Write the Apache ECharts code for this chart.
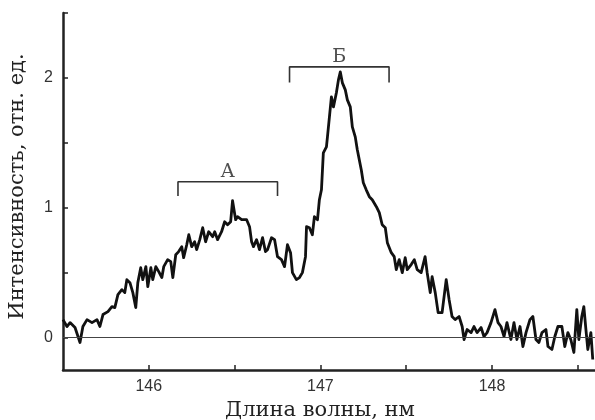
<!DOCTYPE html>
<html>
<head>
<meta charset="utf-8">
<script src="https://cdn.jsdelivr.net/npm/echarts@6/dist/echarts.min.js"></script>
<style>
  html, body { margin: 0; padding: 0; background: #fff; }
  #chart { width: 595px; height: 420px; }
</style>
</head>
<body>
<div id="chart"></div>
<script>
// Emission spectrum: wavelength (nm) and relative intensity
const wavelength = [
  145.500, 145.523, 145.541, 145.570, 145.599, 145.616, 145.640, 145.669, 145.698, 145.715,
  145.733, 145.762, 145.785, 145.802, 145.820, 145.843, 145.860, 145.872, 145.890, 145.907,
  145.924, 145.936, 145.953, 145.965, 145.983, 145.994, 146.012, 146.023, 146.041, 146.058,
  146.076, 146.087, 146.110, 146.128, 146.140, 146.157, 146.174, 146.192, 146.203, 146.221,
  146.233, 146.250, 146.267, 146.279, 146.297, 146.314, 146.331, 146.349, 146.372, 146.384,
  146.401, 146.424, 146.442, 146.459, 146.477, 146.488, 146.506, 146.517, 146.541, 146.570,
  146.587, 146.599, 146.610, 146.628, 146.645, 146.663, 146.680, 146.692, 146.715, 146.733,
  146.750, 146.773, 146.791, 146.808, 146.826, 146.837, 146.860, 146.878, 146.895, 146.913,
  146.919, 146.936, 146.953, 146.965, 146.983, 146.994, 147.006, 147.017, 147.035, 147.041,
  147.064, 147.076, 147.093, 147.105, 147.116, 147.128, 147.145, 147.157, 147.174, 147.186,
  147.203, 147.215, 147.238, 147.250, 147.267, 147.285, 147.302, 147.326, 147.343, 147.360,
  147.378, 147.390, 147.413, 147.430, 147.442, 147.459, 147.477, 147.494, 147.506, 147.529,
  147.547, 147.564, 147.587, 147.610, 147.622, 147.640, 147.651, 147.669, 147.686, 147.709,
  147.733, 147.750, 147.767, 147.785, 147.808, 147.826, 147.837, 147.855, 147.878, 147.895,
  147.913, 147.936, 147.953, 147.971, 147.994, 148.017, 148.035, 148.052, 148.070, 148.087,
  148.110, 148.128, 148.145, 148.163, 148.180, 148.198, 148.221, 148.238, 148.256, 148.273,
  148.291, 148.314, 148.326, 148.349, 148.366, 148.384, 148.407, 148.424, 148.442, 148.459,
  148.477, 148.494, 148.506, 148.523, 148.535, 148.547, 148.558, 148.576, 148.587
];
const intensity = [
  0.138, 0.085, 0.115, 0.077, -0.038, 0.085, 0.138, 0.115, 0.138, 0.085,
  0.177, 0.200, 0.238, 0.231, 0.331, 0.369, 0.346, 0.446, 0.423, 0.346,
  0.231, 0.423, 0.538, 0.446, 0.546, 0.392, 0.538, 0.446, 0.546, 0.508,
  0.462, 0.546, 0.600, 0.585, 0.462, 0.638, 0.662, 0.700, 0.615, 0.715,
  0.792, 0.700, 0.738, 0.677, 0.754, 0.846, 0.738, 0.815, 0.777, 0.815,
  0.754, 0.815, 0.892, 0.869, 0.892, 1.054, 0.908, 0.931, 0.908, 0.908,
  0.854, 0.738, 0.700, 0.754, 0.677, 0.769, 0.662, 0.677, 0.769, 0.754,
  0.623, 0.600, 0.546, 0.715, 0.654, 0.500, 0.446, 0.462, 0.500, 0.623,
  0.854, 0.846, 0.792, 0.931, 0.908, 1.062, 1.138, 1.423, 1.469, 1.546,
  1.854, 1.777, 1.885, 1.985, 2.046, 1.962, 1.908, 1.831, 1.777, 1.623,
  1.546, 1.446, 1.292, 1.192, 1.138, 1.085, 1.062, 1.008, 0.962, 0.869,
  0.846, 0.731, 0.654, 0.623, 0.523, 0.600, 0.500, 0.615, 0.523, 0.562,
  0.600, 0.523, 0.500, 0.623, 0.500, 0.346, 0.469, 0.346, 0.192, 0.192,
  0.446, 0.292, 0.162, 0.138, 0.162, 0.085, -0.015, 0.062, 0.038, 0.085,
  0.038, 0.077, 0.008, 0.038, 0.115, 0.215, 0.115, 0.085, 0.008, 0.115,
  -0.015, 0.115, -0.015, 0.085, -0.069, 0.038, 0.138, 0.162, -0.015, -0.038,
  0.038, 0.062, -0.069, -0.092, 0.008, 0.085, 0.085, -0.069, 0.038, -0.015,
  -0.115, 0.215, -0.015, 0.162, 0.238, 0.062, -0.092, 0.038, -0.169
];

// Band brackets: start/end wavelength, bracket level, foot level, label
const bandNames = ['А', 'Б'];
const bandStart = [146.17, 146.82];
const bandEnd = [146.75, 147.40];
const bandLevel = [1.20, 2.085];
const bandFoot = [1.09, 1.965];

const xTicks = [146, 147, 148];
const yTicks = [0, 0.5, 1, 1.5, 2, 2.5];
const yLabels = [0, 1, 2];

const serif = '"DejaVu Serif", "Liberation Serif", serif';
const sans = '"Liberation Sans Narrow", "Liberation Sans", Arial, sans-serif';

const spectrum = wavelength.map((w, i) => [w, intensity[i]]);

const bracketSeries = bandNames.map((name, i) => ({
  type: 'line',
  data: [
    [bandStart[i], bandFoot[i]],
    [bandStart[i], bandLevel[i]],
    [bandEnd[i], bandLevel[i]],
    [bandEnd[i], bandFoot[i]]
  ],
  symbol: 'none',
  silent: true,
  lineStyle: { color: '#333', width: 1.6 },
  z: 3
}));

const bandLabels = {
  type: 'scatter',
  symbolSize: 0,
  silent: true,
  data: bandNames.map((name, i) => ({
    value: [(bandStart[i] + bandEnd[i]) / 2, bandLevel[i]],
    label: {
      show: true,
      position: 'top',
      distance: 0,
      formatter: name,
      fontFamily: serif,
      fontSize: 19,
      color: '#222'
    }
  }))
};

const chart = echarts.init(document.getElementById('chart'), null, { renderer: 'canvas' });
chart.setOption({
  animation: false,
  backgroundColor: '#fff',
  grid: { left: 63, right: 0, top: 13, bottom: 50, containLabel: false, outerBoundsMode: 'none' },
  xAxis: {
    type: 'value',
    min: 145.5,
    max: 148.6,
    interval: 0.5,
    name: 'Длина волны, нм',
    nameLocation: 'middle',
    nameGap: 23,
    nameTextStyle: { fontFamily: serif, fontSize: 21, color: '#222', padding: [0, 18, 0, 0] },
    axisLine: { show: true, onZero: false, lineStyle: { color: '#222', width: 2.5 } },
    axisTick: { show: true, inside: true, length: 5, lineStyle: { color: '#222', width: 1.5 } },
    axisLabel: {
      margin: 9,
      fontFamily: sans,
      fontSize: 16,
      color: '#333',
      showMinLabel: false,
      showMaxLabel: false,
      formatter: v => (xTicks.indexOf(Math.round(v * 1000) / 1000) >= 0 ? String(v) : '')
    },
    splitLine: { show: false }
  },
  yAxis: {
    type: 'value',
    min: -0.25,
    max: 2.5,
    name: 'Интенсивность, отн. ед.',
    nameLocation: 'middle',
    nameGap: 35,
    nameRotate: 90,
    nameTextStyle: { fontFamily: serif, fontSize: 21, color: '#222', padding: [0, 0, 0, 10] },
    axisLine: { show: true, onZero: false, lineStyle: { color: '#222', width: 2.5 } },
    axisTick: { show: true, inside: true, length: 5, customValues: yTicks, lineStyle: { color: '#222', width: 1.5 } },
    axisLabel: {
      margin: 10,
      customValues: yLabels,
      fontFamily: sans,
      fontSize: 16,
      color: '#333'
    },
    splitLine: { show: false }
  },
  series: [
    {
      type: 'line',
      data: spectrum,
      symbol: 'none',
      smooth: false,
      lineStyle: { color: '#111', width: 2.8, join: 'round' },
      z: 4,
      markLine: {
        silent: true,
        symbol: 'none',
        label: { show: false },
        lineStyle: { color: '#444', width: 1, type: 'solid' },
        data: [{ yAxis: 0 }]
      }
    },
    ...bracketSeries,
    bandLabels
  ]
});
</script>
</body>
</html>
